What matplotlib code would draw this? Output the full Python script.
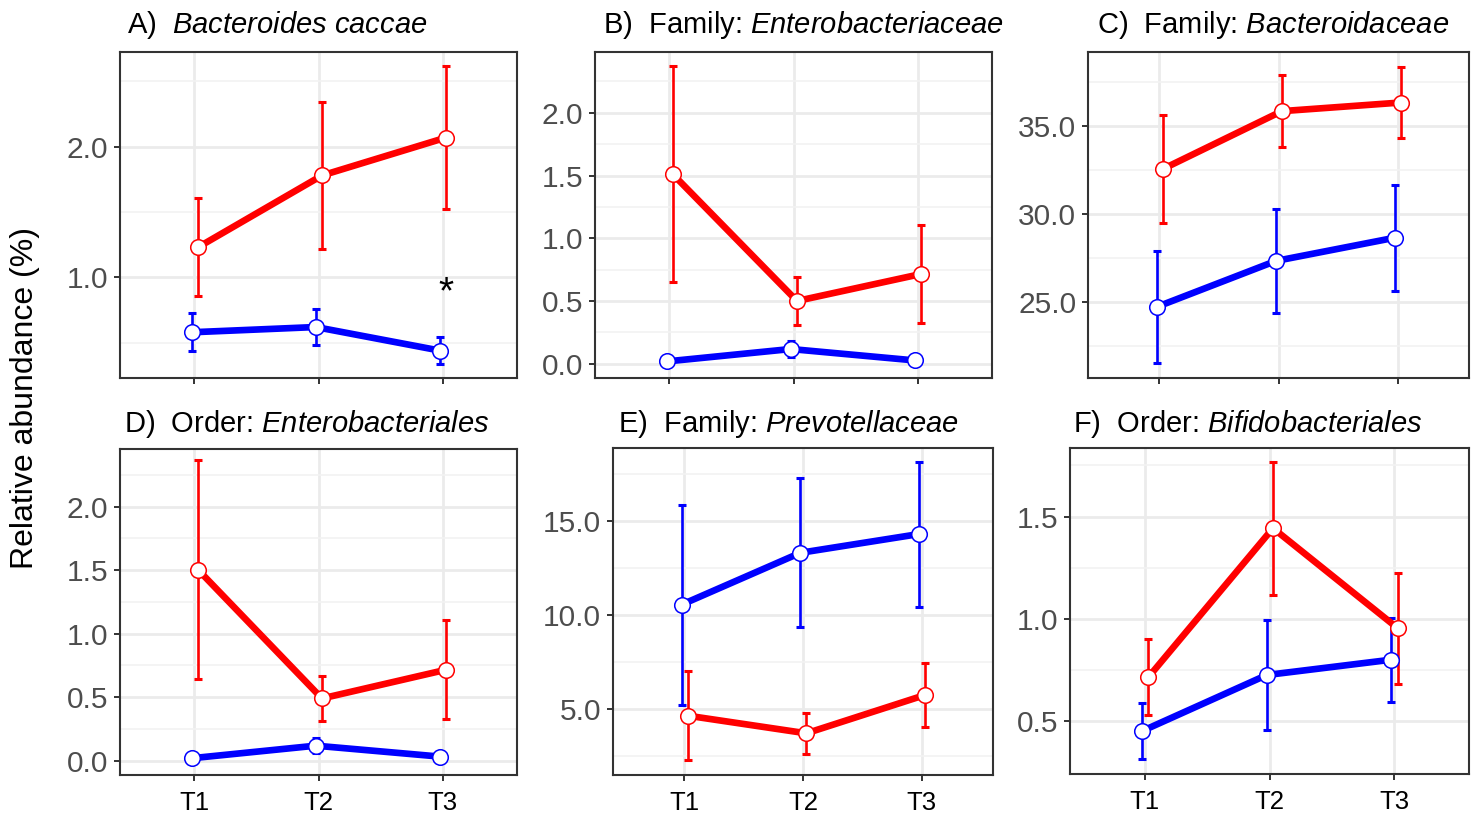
import matplotlib
matplotlib.use("Agg")
import matplotlib.pyplot as plt
import numpy as np

plt.rcParams['font.family'] = ['Liberation Sans', 'DejaVu Sans']
plt.rcParams['mathtext.fontset'] = 'custom'
plt.rcParams['mathtext.rm'] = 'Liberation Sans'
plt.rcParams['mathtext.it'] = 'Liberation Sans:italic'

times = ['T1', 'T2', 'T3']

# group means and error half-widths (relative abundance, %)
a_red = [1.23, 1.78, 2.07]
a_red_err = [0.375, 0.56, 0.55]
a_blue = [0.58, 0.62, 0.44]
a_blue_err = [0.145, 0.14, 0.10]

b_red = [1.51, 0.50, 0.715]
b_red_err = [0.86, 0.19, 0.39]
b_blue = [0.018, 0.117, 0.026]
b_blue_err = [0.02, 0.06, 0.02]

c_red = [32.56, 35.85, 36.34]
c_red_err = [3.09, 2.05, 2.03]
c_blue = [24.73, 27.34, 28.66]
c_blue_err = [3.19, 2.93, 3.0]

d_red = [1.505, 0.49, 0.716]
d_red_err = [0.86, 0.18, 0.39]
d_blue = [0.019, 0.118, 0.032]
d_blue_err = [0.02, 0.06, 0.02]

e_red = [4.66, 3.72, 5.76]
e_red_err = [2.36, 1.10, 1.70]
e_blue = [10.57, 13.33, 14.33]
e_blue_err = [5.33, 3.96, 3.86]

f_red = [0.714, 1.443, 0.954]
f_red_err = [0.185, 0.325, 0.272]
f_blue = [0.451, 0.725, 0.80]
f_blue_err = [0.137, 0.27, 0.205]

titles = [
    ('A)  ', 'Bacteroides caccae'),
    ('B)  Family: ', 'Enterobacteriaceae'),
    ('C)  Family: ', 'Bacteroidaceae'),
    ('D)  Order: ', 'Enterobacteriales'),
    ('E)  Family: ', 'Prevotellaceae'),
    ('F)  Order: ', 'Bifidobacteriales'),
]

W, H = 1481, 821
fig = plt.figure(figsize=(W / 100, H / 100), dpi=100)

# panel boxes in pixels: left, right, top, bottom
boxes = [
    (120, 517, 52, 378),
    (595, 992, 52, 378),
    (1088, 1469, 52, 378),
    (120, 517, 449, 775),
    (613, 993, 448, 775),
    (1070, 1469, 448, 774),
]
title_pos = [(127, 33), (603, 33), (1097, 33), (124, 432), (618, 432), (1073, 432)]

panels = [
    (a_red, a_red_err, a_blue, a_blue_err, (0.23, 2.725), [1.0, 2.0], [0.5, 1.5, 2.5]),
    (b_red, b_red_err, b_blue, b_blue_err, (-0.114, 2.485), [0, 0.5, 1.0, 1.5, 2.0], [0.25, 0.75, 1.25, 1.75, 2.25]),
    (c_red, c_red_err, c_blue, c_blue_err, (20.69, 39.21), [25, 30, 35], [22.5, 27.5, 32.5, 37.5]),
    (d_red, d_red_err, d_blue, d_blue_err, (-0.113, 2.455), [0, 0.5, 1.0, 1.5, 2.0], [0.25, 0.75, 1.25, 1.75, 2.25]),
    (e_red, e_red_err, e_blue, e_blue_err, (1.5, 18.91), [5, 10, 15], [2.5, 7.5, 12.5, 17.5]),
    (f_red, f_red_err, f_blue, f_blue_err, (0.241, 1.835), [0.5, 1.0, 1.5], [0.75, 1.25, 1.75]),
]

BLUE, RED = '#0000FF', '#FF0000'
DX_BLUE, DX_RED = -0.022, 0.028

x = np.arange(1, 4)
axes = []
for i, (red, red_err, blue, blue_err, ylim, yt, ymin) in enumerate(panels):
    l, r, t, b = boxes[i]
    ax = fig.add_axes([l / W, 1 - b / H, (r - l) / W, (b - t) / H])
    axes.append(ax)

    groups = [(blue, blue_err, BLUE, DX_BLUE), (red, red_err, RED, DX_RED)]
    for vals, errs, col, dx in groups:
        ax.errorbar(x + dx, vals, yerr=errs, fmt='none', ecolor=col, elinewidth=1.9,
                    capsize=2.6, capthick=2.2, zorder=3)
    for vals, errs, col, dx in groups:
        ax.plot(x + dx, vals, color=col, lw=4.8, solid_capstyle='butt', zorder=4)
    for vals, errs, col, dx in groups:
        ax.plot(x + dx, vals, 'o', ms=11.2, mfc='white', mec=col, mew=1.1, zorder=5)

    ax.set_xlim(0.4, 3.6)
    ax.set_ylim(*ylim)
    ax.set_xticks(x)
    ax.set_yticks(yt)
    ax.set_yticks(ymin, minor=True)
    ax.set_yticklabels(['%.1f' % v for v in yt])
    if i >= 3:
        ax.set_xticklabels(times)
    else:
        ax.set_xticklabels([])
    ax.grid(which='major', color='#EBEBEB', lw=2.0, zorder=0)
    ax.grid(which='minor', axis='y', color='#F2F2F2', lw=1.2, zorder=0)
    ax.set_axisbelow(True)
    for s in ax.spines.values():
        s.set_color('#333333')
        s.set_linewidth(1.5)
    ax.tick_params(axis='y', which='major', length=4.5, width=1.4, color='#333333',
                   labelsize=21.5, labelcolor='#4D4D4D', pad=4)
    ax.tick_params(axis='x', which='major', length=4.5, width=1.4, color='#333333',
                   labelsize=18.5, labelcolor='black', pad=7)
    ax.tick_params(which='minor', length=0)

    pre, ital = titles[i]
    tx, ty = title_pos[i]
    label = pre + r'$\mathit{' + ital.replace(' ', r'\ ') + '}$'
    fig.text(tx / W, 1 - ty / H, label, fontsize=21, ha='left', va='baseline')

# significance marker at T3 in panel A
axes[0].text(3 + DX_RED, 0.88, '*', fontsize=28, ha='center', va='center')

fig.text(25 / W, 1 - 398 / H, 'Relative abundance (%)', rotation=90,
         fontsize=23, ha='center', va='center')

fig.savefig('out.png', dpi=100)
